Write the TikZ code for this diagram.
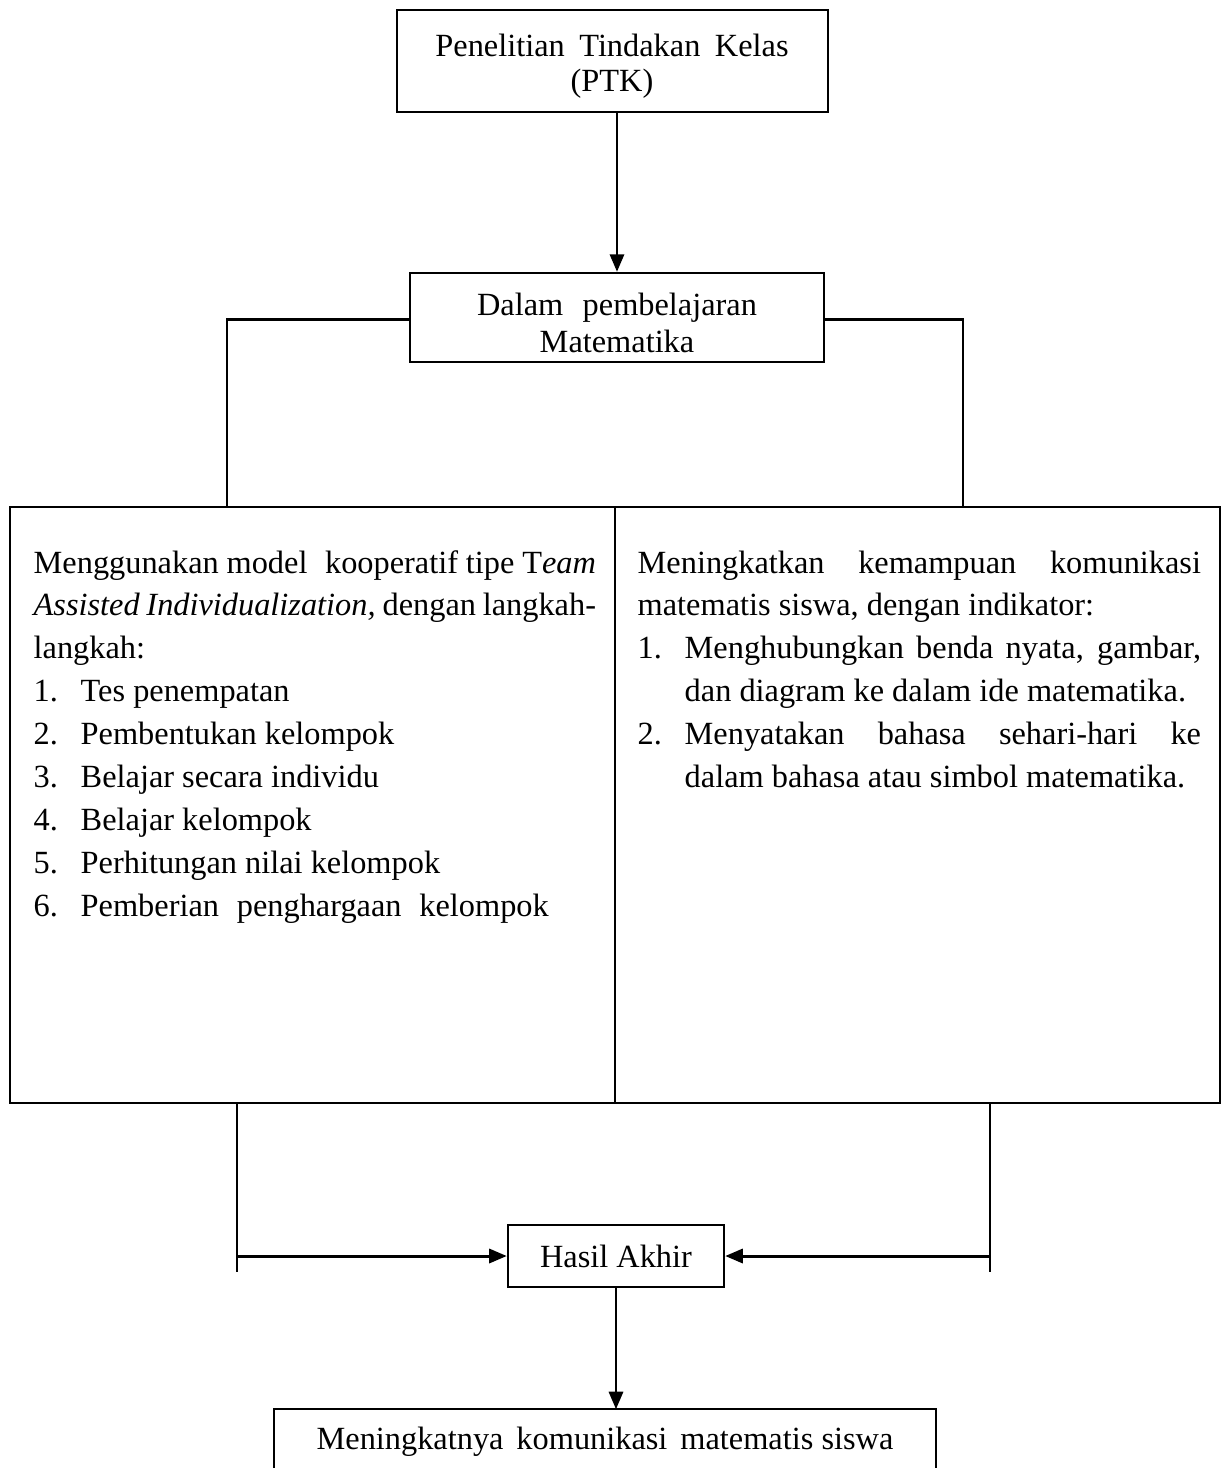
\documentclass[tikz,border=0pt]{standalone}
\usepackage{fontspec}
\setmainfont{Liberation Serif}
\usetikzlibrary{arrows.meta}
\newcommand{\myitem}[2]{\par\noindent\hangindent=0.47cm\hangafter=1\makebox[0.47cm][l]{#1}#2}
\newcommand{\myprep}{\tolerance=10000\hbadness=10000\hyphenpenalty=10000\exhyphenpenalty=10000\parindent=0pt}
\begin{document}
\begin{tikzpicture}[x=0.01cm,y=-0.01cm,
  font=\fontsize{9.2}{12.2}\selectfont,
  box/.style={draw, line width=0.65pt, inner sep=0pt},
  conn/.style={line width=0.65pt},
  arr/.style={line width=0.85pt, -{Triangle[length=5pt,width=4pt]}},
  lbl/.style={inner sep=0pt, align=center}]
\useasboundingbox (0,0) rectangle (1224,1468);

% boxes
\node[box, minimum width=4.31cm, minimum height=1.02cm] (ptk) at (612.5,61) {};
\node[lbl, font=\fontsize{9.2}{9.8}\selectfont] (ptkt) at (612,66) {Penelitian\hspace{0.45em}Tindakan\hspace{0.45em}Kelas\\(PTK)};

\node[box, minimum width=4.14cm, minimum height=0.89cm] (dalam) at (617,317.5) {};
\node[lbl, font=\fontsize{9.2}{10.4}\selectfont] (dalamt) at (617,323) {Dalam\hspace{0.6em}pembelajaran\\Matematika};

\node[box, minimum width=6.05cm, minimum height=5.96cm] (left) at (312.5,805) {};
\node[box, minimum width=6.05cm, minimum height=5.96cm] (right) at (917.5,805) {};

\node[anchor=base west, inner sep=0pt] (ltext) at (33,573) {\parbox[t]{5.62cm}{\myprep
Menggunakan model\hspace{0.3em} kooperatif tipe T\textit{eam}\linebreak
\textit{Assisted Individualization,} dengan langkah-\linebreak
langkah:
\myitem{1.}{Tes penempatan}
\myitem{2.}{Pembentukan kelompok}
\myitem{3.}{Belajar secara individu}
\myitem{4.}{Belajar kelompok}
\myitem{5.}{Perhitungan nilai kelompok}
\myitem{6.}{Pemberian\hspace{0.3em} penghargaan\hspace{0.3em} kelompok}\par}};

\node[anchor=base west, inner sep=0pt] (rtext) at (637,573) {\parbox[t]{5.63cm}{\myprep
Meningkatkan kemampuan komunikasi\linebreak
matematis siswa, dengan indikator:
\myitem{1.}{Menghubungkan benda nyata, gambar,\linebreak dan diagram ke dalam ide matematika.}
\myitem{2.}{Menyatakan bahasa sehari-hari ke\linebreak dalam bahasa atau simbol matematika.}\par}};

\node[box, minimum width=2.16cm, minimum height=0.62cm] (hasil) at (616,1256) {Hasil Akhir};

\node[inner sep=0pt, minimum width=6.6cm, minimum height=0.8cm] (final) at (605,1450) {};
\node[lbl] (finalt) at (605,1442) {Meningkatnya\hspace{0.4em}komunikasi\hspace{0.4em}matematis siswa};

% connectors
\draw[arr] (dalam.north |- ptk.south) -- (dalam.north);
\coordinate (lj) at (227,507);
\coordinate (rj) at (963,507);
\draw[conn] (dalam.west) ++(0,2) -| (lj);
\draw[conn] (dalam.east) ++(0,2) -| (rj);

\coordinate (lb) at (237,1103);
\coordinate (lt) at (237,1272);
\coordinate (rb) at (990,1103);
\coordinate (rt) at (990,1272);
\draw[conn] (lb) -- (lt);
\draw[conn] (rb) -- (rt);
\draw[arr] (lb |- hasil.west) -- (hasil.west);
\draw[arr] (rb |- hasil.east) -- (hasil.east);
\draw[arr] (hasil.south) -- (hasil.south |- final.north);
\draw[line width=0.65pt] (final.south west) -- (final.north west) -- (final.north east) -- (final.south east);
\end{tikzpicture}
\end{document}
